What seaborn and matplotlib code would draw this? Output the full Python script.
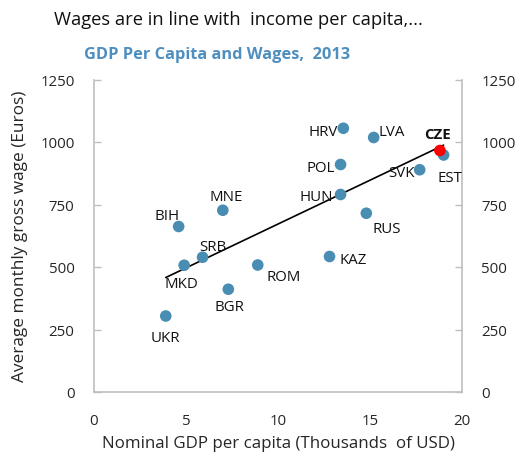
import matplotlib
matplotlib.use("Agg")
import matplotlib.pyplot as plt
import seaborn as sns
import pandas as pd

# GDP per capita (thousands of USD) and average monthly gross wage (euros), 2013
countries = ["MNE", "BIH", "SRB", "MKD", "ROM", "BGR", "UKR", "HRV",
             "LVA", "CZE", "EST", "POL", "SVK", "HUN", "RUS", "KAZ"]
gdp_per_capita = [7.0, 4.6, 5.9, 4.9, 8.9, 7.3, 3.9, 13.55,
                  15.2, 18.8, 19.0, 13.4, 17.7, 13.4, 14.8, 12.8]
monthly_wage = [727, 662, 539, 507, 508, 411, 304, 1055,
                1018, 966, 948, 910, 889, 790, 715, 542]

# label offsets in pixels (dx, dy) around each marker
label_offsets = {
    "MNE": (3, 14), "BIH": (-12, 11), "SRB": (10, 11), "MKD": (-3, -18),
    "ROM": (26, -12), "BGR": (1, -17), "UKR": (0, -22), "HRV": (-20, -3),
    "LVA": (18, 6), "CZE": (-2, 16), "EST": (6, -23), "POL": (-20, -3),
    "SVK": (-18, -3), "HUN": (-24, -2), "RUS": (20, -15), "KAZ": (24, -3),
}

df = pd.DataFrame({"country": countries, "gdp": gdp_per_capita, "wage": monthly_wage})
highlight = "CZE"

sns.set_style("white")
plt.rcParams["font.family"] = ["Open Sans", "DejaVu Sans"]

fig = plt.figure(figsize=(5.19, 4.56), dpi=100)
ax = fig.add_axes([94 / 519, 1 - 393 / 456, 368 / 519, 312.5 / 456])

blue = "#4a8db3"
axis_grey = "#bfbfbf"

sns.regplot(data=df, x="gdp", y="wage", ax=ax, scatter=False, ci=None,
            truncate=True, color="black", line_kws={"linewidth": 1.2})
others = df[df["country"] != highlight]
sns.scatterplot(data=others, x="gdp", y="wage", ax=ax, color=blue, s=70,
                edgecolor="none", zorder=3)
sns.scatterplot(data=df[df["country"] == highlight], x="gdp", y="wage", ax=ax,
                color="#ff0000", s=70, edgecolor="none", zorder=4)

for name, x, y in zip(countries, gdp_per_capita, monthly_wage):
    dx, dy = label_offsets[name]
    ax.annotate(name, (x, y), xytext=(dx, dy), textcoords="offset pixels",
                ha="center", va="center", fontsize=10.8,
                fontweight="bold" if name == highlight else "normal",
                color="#111111", zorder=5)

ax.set_xlim(0, 20)
ax.set_ylim(0, 1250)
ax.set_xticks([0, 5, 10, 15, 20])
ax.set_yticks([0, 250, 500, 750, 1000, 1250])
ax.set_xlabel("Nominal GDP per capita (Thousands  of USD)", fontsize=12.2, labelpad=5)
ax.set_ylabel("Average monthly gross wage (Euros)", fontsize=12.4, labelpad=9)

for side in ["left", "right", "bottom"]:
    ax.spines[side].set_visible(True)
    ax.spines[side].set_color(axis_grey)
    ax.spines[side].set_linewidth(1.2)
ax.spines["top"].set_visible(False)

ax.tick_params(axis="both", direction="in", length=5, width=1, color=axis_grey,
               labelsize=10.8, pad=14)
ax.tick_params(axis="x", pad=15)
ax.tick_params(axis="y", right=True, labelright=True, left=True)

fig.text(238 / 519, 1 - 20 / 456, "Wages are in line with  income per capita,...",
         ha="center", va="center", fontsize=13.2, color="#111111")
fig.text(217 / 519, 1 - 55 / 456, "GDP Per Capita and Wages,  2013",
         ha="center", va="center", fontsize=11.8, fontweight="bold", color="#4f8fc0")

fig.savefig("out.png", dpi=100)
